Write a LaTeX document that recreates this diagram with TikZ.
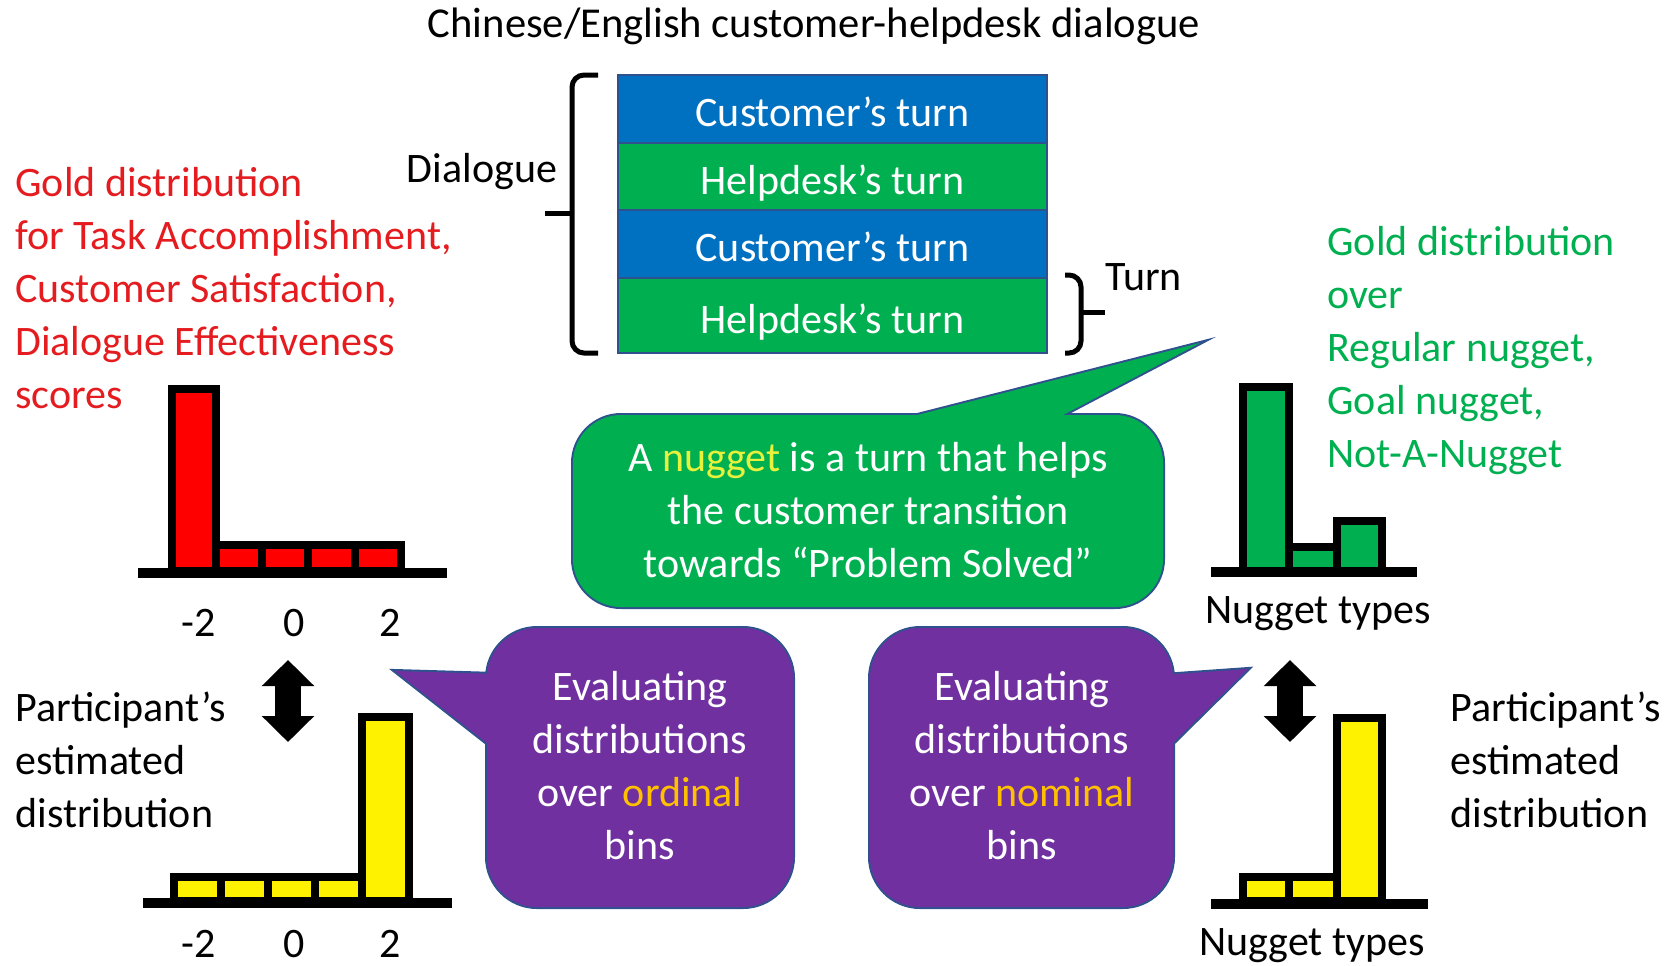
\documentclass[tikz,border=0pt]{standalone}
\usepackage{fontspec}
\setmainfont{Carlito}
\usepackage{tikz}
\usetikzlibrary{arrows.meta}

\definecolor{custblue}{RGB}{0,112,192}
\definecolor{helpgreen}{RGB}{0,176,80}
\definecolor{edgeblue}{RGB}{47,82,143}
\definecolor{goldred}{RGB}{228,28,32}
\definecolor{bubblepurple}{RGB}{112,48,160}
\definecolor{nuggetyellow}{RGB}{232,242,60}
\definecolor{binorange}{RGB}{255,192,0}

\tikzset{
  txt/.style={inner sep=0pt, font=\fontsize{21}{26.5}\selectfont},
  turnrow/.style={txt, draw=edgeblue, line width=1pt, text=white, minimum width=214.5pt, text height=17.5pt, text depth=0pt},
  bubbleedge/.style={draw=edgeblue, line width=2pt},
  bubbletxt/.style={txt, align=center, text=white},
  histbar/.style={draw=black, line width=4pt},
  histaxis/.style={draw=black, line width=5pt},
  cmparrow/.style={line width=13pt, {Triangle[width=25.5pt,length=13pt]}-{Triangle[width=25.5pt,length=13pt]}},
  bracket/.style={line width=2.5pt, rounded corners=6pt},
}

\begin{document}
\begin{tikzpicture}[x=0.5pt,y=-0.5pt]
  \useasboundingbox (0,0) rectangle (1669,965);

  % dialogue
  \node[txt, anchor=base, font=\fontsize{21.3}{26.5}\selectfont] (title) at (814,37) {Chinese/English customer-helpdesk dialogue};
  \node[turnrow, fill=custblue, minimum height=34pt] (cust1) at (832.5,109) {Customer’s turn};
  \node[turnrow, fill=helpgreen, minimum height=33.5pt] (help1) at (832.5,176.5) {Helpdesk’s turn};
  \node[turnrow, fill=custblue, minimum height=34pt] (cust2) at (832.5,244) {Customer’s turn};
  \node[turnrow, fill=helpgreen, minimum height=37.5pt] (help2) at (832.5,315.5) {Helpdesk’s turn};
  \draw[bracket] (598,75) -- (572,75) -- (572,353) -- (598,353);
  \draw[bracket] (573,213) -- (545,213);
  \draw[bracket] (1065,275) -- (1081,275) -- (1081,353) -- (1065,353);
  \draw[bracket] (1080,312) -- (1105,312);
  \node[txt, anchor=base] (dlglabel) at (482,182) {Dialogue};
  \node[txt, anchor=base west] (turnlabel) at (1105,290) {Turn};

  % gold / estimated texts
  \node[txt, anchor=base west, align=left, text=goldred] (goldord) at (15,408)
    {Gold distribution\\for Task Accomplishment,\\Customer Satisfaction,\\Dialogue Effectiveness\\scores};
  \node[txt, anchor=base west, align=left, text=helpgreen] (goldnom) at (1327,467)
    {Gold distribution\\over\\Regular nugget,\\Goal nugget,\\Not-A-Nugget};
  \node[txt, anchor=base west, align=left] (estord) at (15,827) {Participant’s\\estimated\\distribution};
  \node[txt, anchor=base west, align=left] (estnom) at (1450,827) {Participant’s\\estimated\\distribution};

  % ordinal histograms
  \draw[histbar, fill=red] (172,389) rectangle (216,571);
  \draw[histbar, fill=red] (216,545) rectangle (262,571);
  \draw[histbar, fill=red] (262,545) rectangle (308,571);
  \draw[histbar, fill=red] (308,545) rectangle (355,571);
  \draw[histbar, fill=red] (355,545) rectangle (401,571);
  \draw[histaxis] (138,573) -- (447,573);
  \node[txt, anchor=base] (gm2) at (199,636) {-2};
  \node[txt, anchor=base] (g0) at (294,636) {0};
  \node[txt, anchor=base] (g2) at (390,636) {2};

  \draw[histbar, fill=yellow] (174,877) rectangle (221,901);
  \draw[histbar, fill=yellow] (221,877) rectangle (268,901);
  \draw[histbar, fill=yellow] (268,877) rectangle (315,901);
  \draw[histbar, fill=yellow] (315,877) rectangle (362,901);
  \draw[histbar, fill=yellow] (362,717) rectangle (409,901);
  \draw[histaxis] (143,903) -- (452,903);
  \node[txt, anchor=base] (em2) at (199,957) {-2};
  \node[txt, anchor=base] (e0) at (294,957) {0};
  \node[txt, anchor=base] (e2) at (390,957) {2};

  % nominal histograms
  \draw[histbar, fill=helpgreen] (1243,387) rectangle (1289,571);
  \draw[histbar, fill=helpgreen] (1289,547) rectangle (1337,571);
  \draw[histbar, fill=helpgreen] (1337,521) rectangle (1382,571);
  \draw[histaxis] (1211,572) -- (1417,572);
  \node[txt, anchor=base] (goldtypes) at (1318,623) {Nugget types};

  \draw[histbar, fill=yellow] (1243,877) rectangle (1289,901);
  \draw[histbar, fill=yellow] (1289,877) rectangle (1337,901);
  \draw[histbar, fill=yellow] (1337,718) rectangle (1382,901);
  \draw[histaxis] (1211,904) -- (1428,904);
  \node[txt, anchor=base] (esttypes) at (1312,955) {Nugget types};

  % gold vs estimated
  \coordinate (ordtop) at (288,660);
  \coordinate (ordbot) at (288,742);
  \coordinate (nomtop) at (1290,660);
  \coordinate (nombot) at (1290,742);
  \draw[cmparrow] (ordtop) -- (ordbot);
  \draw[cmparrow] (nomtop) -- (nombot);

  % nugget bubble
  \draw[bubbleedge, fill=helpgreen, rounded corners=24pt] (573,415) rectangle (1163,607);
  \draw[bubbleedge, fill=helpgreen] (878,425) -- (1200,343) -- (1044,425) -- cycle;
  \fill[helpgreen, rounded corners=24pt] (573,415) rectangle (1163,607);
  \fill[helpgreen] (878,425) -- (1200,343) -- (1044,425) -- cycle;
  \node[bubbletxt, anchor=base] (nugdef) at (868,577)
    {A \textcolor{nuggetyellow}{nugget} is a turn that helps\\the customer transition\\towards “Problem Solved”};

  % ordinal bubble
  \draw[bubbleedge, fill=bubblepurple, rounded corners=25pt] (487,628) rectangle (793,907);
  \draw[bubbleedge, fill=bubblepurple] (497,674) -- (395,671) -- (497,751) -- cycle;
  \fill[bubblepurple, rounded corners=25pt] (487,628) rectangle (793,907);
  \fill[bubblepurple] (497,674) -- (395,671) -- (497,751) -- cycle;
  \node[bubbletxt, anchor=base] (ordeval) at (640,859)
    {Evaluating\\distributions\\over \textcolor{binorange}{ordinal}\\bins};

  % nominal bubble
  \draw[bubbleedge, fill=bubblepurple, rounded corners=25pt] (870,628) rectangle (1173,907);
  \draw[bubbleedge, fill=bubblepurple] (1163,675) -- (1248,669) -- (1163,753) -- cycle;
  \fill[bubblepurple, rounded corners=25pt] (870,628) rectangle (1173,907);
  \fill[bubblepurple] (1163,675) -- (1248,669) -- (1163,753) -- cycle;
  \node[bubbletxt, anchor=base] (nomeval) at (1022,859)
    {Evaluating\\distributions\\over \textcolor{binorange}{nominal}\\bins};
\end{tikzpicture}
\end{document}
